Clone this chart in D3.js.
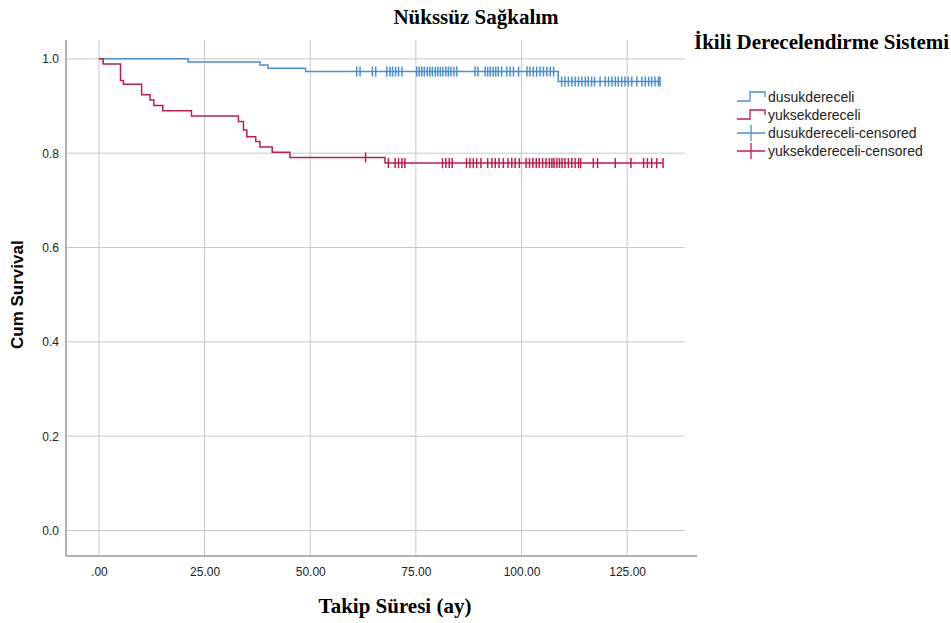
<!DOCTYPE html>
<html lang="tr">
<head>
    <meta charset="UTF-8">
    <script src="https://d3js.org/d3.v7.min.js" charset="UTF-8"></script>
    <title>Nükssüz Sağkalım</title>
    <style>
        body { margin: 0; background: #fff; }
        .tick text { font-family: "Liberation Sans", Arial, sans-serif; font-size: 12px; fill: #222; }
    </style>
</head>
<body>
<script>
var width = 951;
var height = 623;

// group names for the legend
var groups = ["dusukdereceli", "yuksekdereceli"];

// event times (months) and survival after each event
var dusukTimes = [0, 21.1, 38.1, 40.0, 48.9, 108.7];
var dusukSurv  = [1.0, 0.9936, 0.987, 0.980, 0.973, 0.952];
var yuksekTimes = [0, 1.0, 5.1, 5.8, 10.1, 12.1, 13.0, 15.1, 21.9, 33.0, 34.2, 35.0, 37.1, 38.1, 41.0, 45.2, 67.7];
var yuksekSurv  = [1.0, 0.989, 0.954, 0.946, 0.924, 0.913, 0.901, 0.890, 0.879, 0.867, 0.849, 0.835, 0.825, 0.813, 0.802, 0.791, 0.779];

// censored times
var dusukCensored = [61.0, 61.8, 64.7, 65.5, 68.1, 68.9, 69.5, 70.2, 70.9, 71.7, 75.2, 75.8, 76.4, 77.0, 77.7,
    78.3, 78.9, 79.6, 80.2, 80.8, 81.4, 82.1, 82.7, 83.3, 84.0, 84.7, 89.0, 89.7, 91.4, 92.0, 92.6, 93.3,
    93.9, 94.5, 95.3, 96.5, 97.3, 98.1, 99.3, 101.3, 102.0, 102.8, 103.6, 104.4, 105.2, 106.0, 106.8, 107.6,
    109.5, 110.3, 111.1, 111.9, 112.7, 113.5, 114.3, 115.1, 115.8, 116.6, 117.3, 118.6, 119.8, 120.6, 121.4,
    122.2, 122.9, 123.7, 124.5, 125.3, 126.1, 127.3, 128.5, 129.3, 130.1, 130.8, 131.6, 132.4, 132.8];
var yuksekCensored = [63.1, 68.5, 70.1, 70.9, 71.7, 72.4, 81.3, 82.1, 82.9, 83.6, 87.0, 87.8, 88.6, 89.4, 90.4,
    92.0, 93.0, 93.8, 94.7, 95.7, 96.8, 97.7, 98.5, 99.5, 101.1, 101.9, 102.7, 103.5, 104.2, 105.0, 105.8,
    106.6, 107.2, 107.7, 108.4, 109.0, 109.6, 110.3, 111.1, 111.9, 112.7, 113.5, 114.0, 117.0, 118.0,
    122.2, 125.9, 128.9, 129.8, 130.8, 132.0, 133.5];

// axis ticks
var xTicks = [0, 25, 50, 75, 100, 125];
var yTicks = [0, 0.2, 0.4, 0.6, 0.8, 1.0];

var colors = ["#4a8fce", "#be1d4c"];

var svg = d3.select("body").append("svg").attr("width", width).attr("height", height);

var plot = {left: 66, right: 685, top: 40, bottom: 556};

var x = d3.scaleLinear().domain([-7.8, 138.7]).range([plot.left, plot.right]);
var y = d3.scaleLinear().domain([-0.054, 1.04]).range([plot.bottom, plot.top]);

// grid
svg.append("g").selectAll("line").data(xTicks).enter().append("line")
    .attr("x1", function(d) { return x(d); }).attr("x2", function(d) { return x(d); })
    .attr("y1", plot.top).attr("y2", plot.bottom)
    .attr("stroke", "#c8c8c8").attr("stroke-width", 1);
svg.append("g").selectAll("line").data(yTicks).enter().append("line")
    .attr("x1", plot.left).attr("x2", plot.right)
    .attr("y1", function(d) { return y(d); }).attr("y2", function(d) { return y(d); })
    .attr("stroke", "#c8c8c8").attr("stroke-width", 1);

// axes
var fmtX = function(d) { return d3.format(".2f")(d).replace(/^0\./, "."); };
var xAxis = svg.append("g").attr("transform", "translate(0," + plot.bottom + ")")
    .call(d3.axisBottom(x).tickValues(xTicks).tickFormat(fmtX).tickSize(0).tickPadding(11));
var yAxis = svg.append("g").attr("transform", "translate(" + plot.left + ",0)")
    .call(d3.axisLeft(y).tickValues(yTicks).tickFormat(d3.format(".1f")).tickSize(0).tickPadding(7));
[xAxis, yAxis].forEach(function(a) { a.select(".domain").remove(); });

svg.append("line").attr("x1", plot.left).attr("x2", 697).attr("y1", plot.bottom).attr("y2", plot.bottom)
    .attr("stroke", "#9a9a9a").attr("stroke-width", 1.5);
svg.append("line").attr("x1", plot.left).attr("x2", plot.left).attr("y1", plot.top).attr("y2", plot.bottom)
    .attr("stroke", "#9a9a9a").attr("stroke-width", 1.5);

// step curves
var series = [
    {times: dusukTimes, surv: dusukSurv, cens: dusukCensored},
    {times: yuksekTimes, surv: yuksekSurv, cens: yuksekCensored}
];

function survAt(s, t) {
    var i = d3.bisectRight(s.times, t) - 1;
    return s.surv[Math.max(i, 0)];
}

var line = d3.line().x(function(d) { return x(d[0]); }).y(function(d) { return y(d[1]); })
    .curve(d3.curveStepAfter);

series.forEach(function(s, k) {
    var lastT = d3.max(s.cens);
    var pts = s.times.map(function(t, i) { return [t, s.surv[i]]; });
    pts.push([lastT, s.surv[s.surv.length - 1]]);
    svg.append("path").datum(pts)
        .attr("d", line)
        .attr("fill", "none")
        .attr("stroke", colors[k])
        .attr("stroke-width", 1.5);

    svg.append("g").selectAll("line").data(s.cens).enter().append("line")
        .attr("x1", function(d) { return x(d); }).attr("x2", function(d) { return x(d); })
        .attr("y1", function(d) { return y(survAt(s, d)) - 5; })
        .attr("y2", function(d) { return y(survAt(s, d)) + 5; })
        .attr("stroke", colors[k])
        .attr("stroke-width", 1.5);
});

// titles
var serif = "'Liberation Serif', 'Times New Roman', serif";
svg.append("text").attr("x", 476).attr("y", 24).attr("text-anchor", "middle")
    .style("font-family", serif)
    .style("font-weight", "bold").style("font-size", "21px")
    .text("Nükssüz Sağkalım");

svg.append("text").attr("x", 395).attr("y", 613).attr("text-anchor", "middle")
    .style("font-family", serif)
    .style("font-weight", "bold").style("font-size", "21px")
    .text("Takip Süresi (ay)");

svg.append("text").attr("transform", "translate(23," + y(0.5) + ") rotate(-90)")
    .attr("text-anchor", "middle")
    .style("font-family", "'Liberation Sans', Arial, sans-serif")
    .style("font-weight", "bold").style("font-size", "17px")
    .text("Cum Survival");

// legend
svg.append("text").attr("x", 694).attr("y", 49)
    .style("font-family", serif)
    .style("font-weight", "bold").style("font-size", "21px")
    .text("İkili Derecelendirme Sistemi");

var legendItems = [
    {label: groups[0], color: colors[0], type: "step"},
    {label: groups[1], color: colors[1], type: "step"},
    {label: groups[0] + "-censored", color: colors[0], type: "cens"},
    {label: groups[1] + "-censored", color: colors[1], type: "cens"}
];

var legend = svg.append("g").attr("transform", "translate(737, 97)")
    .selectAll("g").data(legendItems).enter().append("g")
    .attr("transform", function(d, i) { return "translate(0," + i * 18 + ")"; });

legend.append("path")
    .attr("d", function(d) {
        return d.type == "step" ? "M0,4H13V-5H28V0" : "M0,0H28M14,-8V8";
    })
    .attr("fill", "none")
    .attr("stroke", function(d) { return d.color; })
    .attr("stroke-width", 1.3);

legend.append("text")
    .attr("x", 31).attr("y", 5)
    .style("font-family", "'Liberation Sans', Arial, sans-serif")
    .style("font-size", "14px").style("fill", "#222")
    .text(function(d) { return d.label; });
</script>
</body>
</html>
